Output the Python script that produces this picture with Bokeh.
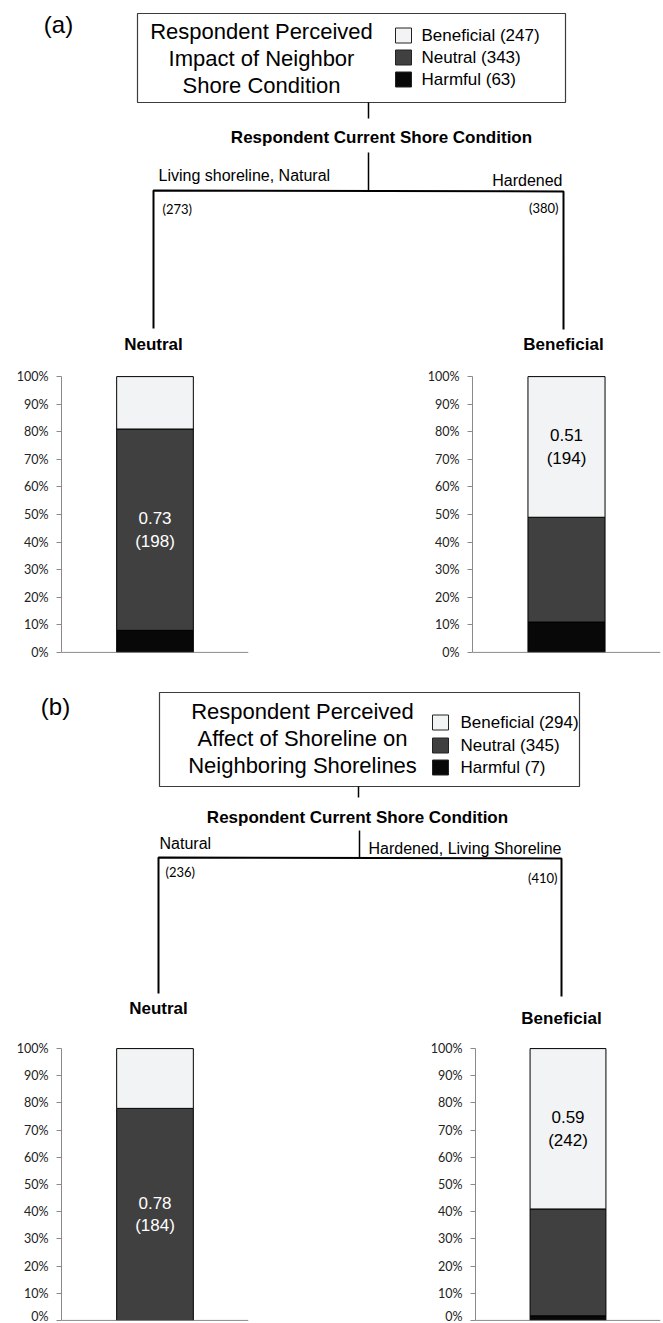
from bokeh.plotting import figure
from bokeh.layouts import column, row
from bokeh.models import Range1d, FactorRange, ColumnDataSource, FixedTicker, NumeralTickFormatter, Span
from bokeh.core.properties import value
from bokeh.embed import file_html
from bokeh.resources import INLINE

# ---------------- data ----------------
panel_tags = ["(a)", "(b)"]
titles_a = ["Respondent Perceived", "Impact of Neighbor", "Shore Condition"]
titles_b = ["Respondent Perceived", "Affect of Shoreline on", "Neighboring Shorelines"]
legend_names = ["Beneficial", "Neutral", "Harmful"]
legend_counts_a = [247, 343, 63]
legend_counts_b = [294, 345, 7]
split_title = "Respondent Current Shore Condition"

branch_labels_a = ["Living shoreline, Natural", "Hardened"]
branch_n_a = [273, 380]
leaf_a = ["Neutral", "Beneficial"]
harmful_a = [0.08, 0.11]
neutral_a = [0.73, 0.38]
beneficial_a = [0.19, 0.51]
share_a = [0.73, 0.51]
count_a = [198, 194]

branch_labels_b = ["Natural", "Hardened, Living Shoreline"]
branch_n_b = [236, 410]
leaf_b = ["Neutral", "Beneficial"]
harmful_b = [0.0, 0.017]
neutral_b = [0.78, 0.393]
beneficial_b = [0.22, 0.59]
share_b = [0.78, 0.59]
count_b = [184, 242]

# ---------------- style ----------------
COLORS = {"Beneficial": "#f2f3f4", "Neutral": "#404040", "Harmful": "#080808"}
FONT = "Liberation Sans"
TICKFONT = "Lato"
W = 663


def txt(p, x, y, s, size, align="left", bold=False, font=FONT, color="black"):
    p.text(x=[x], y=[y], text=[s], text_align=align, text_baseline="middle",
           text_font=value(font), text_font_size=f"{size}px",
           text_font_style="bold" if bold else "normal", text_color=color)


def tree_fig(top, bottom, L, tag, titles, counts, branch_labels, branch_n, leaves):
    p = figure(width=W, height=bottom - top, x_range=Range1d(0, W),
               y_range=Range1d(bottom, top), x_axis_type=None, y_axis_type=None,
               min_border=0, min_border_left=0, min_border_right=0,
               min_border_top=0, min_border_bottom=0,
               outline_line_color=None, toolbar_location=None, output_backend="svg")
    txt(p, L["tag"][0], L["tag"][1], tag, 24, align="center")
    bx = L["box"]
    p.quad(left=[bx[0]], right=[bx[1]], top=[bx[2]], bottom=[bx[3]],
           fill_color=None, line_color="#3c3c3c", line_width=1.2)
    for s, yy in zip(titles, L["title_y"]):
        txt(p, L["title_x"], yy, s, 22, align="center")
    sq = L["sq"]
    for name, cnt, yy in zip(legend_names, counts, L["leg_y"]):
        p.quad(left=[sq[0]], right=[sq[1]], top=[yy - 7.5], bottom=[yy + 7.5],
               fill_color=COLORS[name], line_color="#222222", line_width=1)
        txt(p, L["leg_x"], yy, f"{name} ({cnt})", 17)
    c1 = L["conn1"]
    p.segment(x0=[c1[0]], y0=[c1[1]], x1=[c1[0]], y1=[c1[2]], line_color="black", line_width=1.5)
    txt(p, L["split"][0], L["split"][1], split_title, 17, align="center", bold=True)
    c2 = L["conn2"]
    p.segment(x0=[c2[0]], y0=[c2[1]], x1=[c2[0]], y1=[c2[2]], line_color="black", line_width=1.5)
    txt(p, L["bl_left"][0], L["bl_left"][1], branch_labels[0], 16)
    txt(p, L["bl_right"][0], L["bl_right"][1], branch_labels[1], 16, align="right")
    hb = L["hbar"]
    xl, xr = hb[0], hb[1]
    p.line(x=[xl, xl, xr, xr], y=[L["vend"][0], hb[2], hb[3], L["vend"][1]],
           line_color="black", line_width=2)
    txt(p, L["n_left"][0], L["n_left"][1], f"({branch_n[0]})", 13, font=TICKFONT)
    txt(p, L["n_right"][0], L["n_right"][1], f"({branch_n[1]})", 13, align="right", font=TICKFONT)
    txt(p, xl, L["leaf_y"][0], leaves[0], 17, align="center", bold=True)
    txt(p, xr, L["leaf_y"][1], leaves[1], 17, align="center", bold=True)
    return p


def bar_fig(cat, h, n, b, share, cnt, width, height, bl, br, bt, bb, label_color):
    p = figure(x_range=FactorRange(factors=[cat]), y_range=Range1d(-0.004, 1.004),
               width=width, height=height, min_border_left=bl, min_border_right=br,
               min_border_top=bt, min_border_bottom=bb, x_axis_location=None,
               outline_line_color=None, toolbar_location=None, output_backend="svg")
    p.grid.visible = False
    src = ColumnDataSource(dict(cat=[cat], Harmful=[h], Neutral=[n], Beneficial=[b]))
    p.vbar_stack(["Harmful", "Neutral", "Beneficial"], x="cat", width=0.41, source=src,
                 color=[COLORS["Harmful"], COLORS["Neutral"], COLORS["Beneficial"]],
                 line_color="black", line_width=1)
    lo = {"Harmful": 0, "Neutral": h, "Beneficial": h + n}[cat]
    seg = {"Harmful": h, "Neutral": n, "Beneficial": b}[cat]
    p.text(x=[cat], y=[lo + seg / 2], text=[f"{share:.2f}\n({cnt})"], text_align="center",
           text_baseline="middle", text_font=value(FONT), text_font_size="17px",
           text_color=label_color, text_line_height=1.2)
    ax = p.yaxis[0]
    ax.bounds = (0, 1)
    ax.ticker = FixedTicker(ticks=[i / 10 for i in range(11)])
    ax.formatter = NumeralTickFormatter(format="0%")
    ax.minor_tick_line_color = None
    ax.major_tick_in = 0
    ax.major_tick_out = 5
    ax.axis_line_color = "#8a8a8a"
    ax.major_tick_line_color = "#8a8a8a"
    ax.major_label_standoff = 8
    ax.major_label_text_font = TICKFONT
    ax.major_label_text_font_size = "12.5px"
    ax.major_label_text_color = "#222222"
    p.add_layout(Span(location=0, dimension="width", line_color="#8a8a8a", line_width=1))
    return p


# ---------------- layout positions (page pixels) ----------------
LA = dict(tag=(58, 24), box=(137, 565, 13, 102), title_x=261, title_y=[31, 58, 85],
          sq=(395, 411), leg_x=421, leg_y=[35, 57, 79], conn1=(368, 102, 118),
          split=(381, 137), conn2=(368, 152, 190), bl_left=(158, 175), bl_right=(562, 180),
          hbar=(153, 563, 190, 191), vend=(328, 329), n_left=(162, 208), n_right=(558, 207),
          leaf_y=[344, 344])
LB = dict(tag=(55, 706), box=(159, 579, 692, 786), title_x=302, title_y=[711, 738, 765],
          sq=(432, 448), leg_x=460, leg_y=[722, 745, 767], conn1=(358, 786, 797),
          split=(357, 817), conn2=(359, 830, 857), bl_left=(159, 843), bl_right=(561, 848),
          hbar=(158, 561, 857, 858), vend=(993, 996), n_left=(165, 871), n_right=(557, 877),
          leaf_y=[1008, 1018])

tree_a = tree_fig(0, 362, LA, panel_tags[0], titles_a, legend_counts_a,
                  branch_labels_a, branch_n_a, leaf_a)
bars_a = row(
    bar_fig(leaf_a[0], harmful_a[0], neutral_a[0], beneficial_a[0], share_a[0], count_a[0],
            400, 306, 61, 152, 13, 15, "white"),
    bar_fig(leaf_a[1], harmful_a[1], neutral_a[1], beneficial_a[1], share_a[1], count_a[1],
            263, 306, 72, 3, 13, 15, "black"),
    spacing=0)
tree_b = tree_fig(668, 1033, LB, panel_tags[1], titles_b, legend_counts_b,
                  branch_labels_b, branch_n_b, leaf_b)
bars_b = row(
    bar_fig(leaf_b[0], harmful_b[0], neutral_b[0], beneficial_b[0], share_b[0], count_b[0],
            400, 290, 61, 152, 14, 2, "white"),
    bar_fig(leaf_b[1], harmful_b[1], neutral_b[1], beneficial_b[1], share_b[1], count_b[1],
            263, 290, 75, 3, 14, 2, "black"),
    spacing=0)

layout = column(tree_a, bars_a, tree_b, bars_b, spacing=0)
open("out.html", "w").write(file_html(layout, INLINE))
